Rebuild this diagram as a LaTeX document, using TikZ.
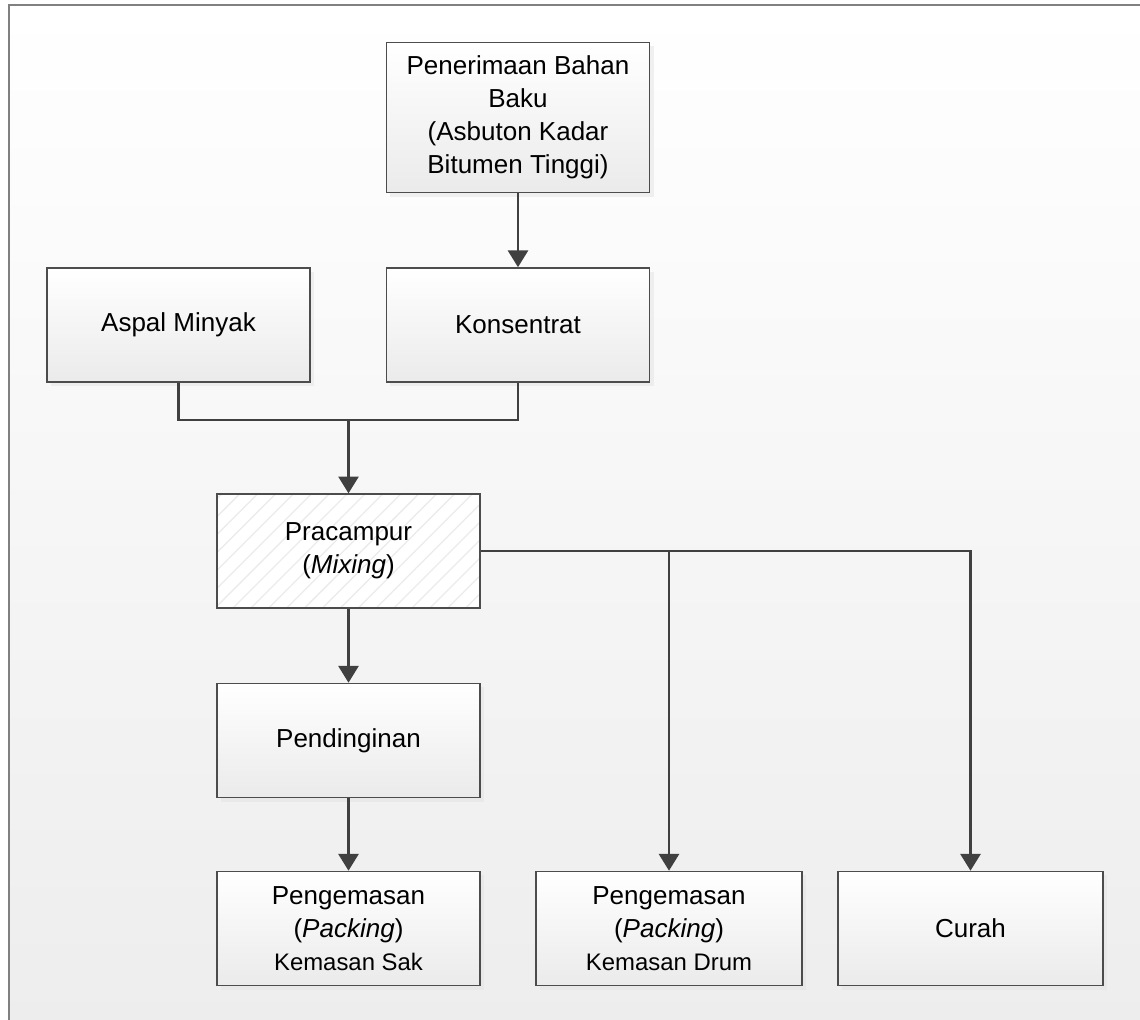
\documentclass[tikz,border=0pt]{standalone}
\usepackage{fontspec}
\setmainfont{Liberation Sans}
\usetikzlibrary{arrows.meta,patterns.meta,shadows}

\tikzset{
  basebox/.style={draw=black!70, line width=1.1pt,
    minimum width=6.575cm, minimum height=2.85cm, inner sep=0pt, align=center,
    font=\fontsize{18.5}{23.5}\selectfont},
  stagebox/.style={basebox, top color=white, bottom color=black!8,
    drop shadow={shadow xshift=0.1cm, shadow yshift=-0.1cm, fill=black!11}},
  mixbox/.style={basebox, preaction={fill=white},
    pattern={Lines[angle=45, distance=9pt, line width=0.9pt]}, pattern color=black!8},
  conn/.style={draw=black!75, line width=1.9pt},
  flow/.style={conn, -{Triangle[width=0.5cm, length=0.42cm]}}
}

\begin{document}
\begin{tikzpicture}[x=0.025cm, y=-0.025cm]
\useasboundingbox (0,0) rectangle (1140,1020);
\fill[white] (0,0) rectangle (1140,1020);
\node[anchor=north west, inner sep=0pt, minimum width=28.275cm, minimum height=25.375cm,
  top color=white, bottom color=black!7] (latar) at (9,5) {};
\draw[black!50, line width=1.5pt] (latar.south west) -- (latar.north west) -- (latar.north east);

% bahan baku
\node[stagebox, minimum height=3.75cm] (terima) at (518,117.5)
  {Penerimaan Bahan\\Baku\\(Asbuton Kadar\\Bitumen Tinggi)};
\node[stagebox] (aspal) at (178.5,325) {Aspal Minyak};
\node[stagebox] (konsentrat) at (518,325) {Konsentrat};

% proses
\node[mixbox] (pracampur) at (348.5,551) {Pracampur\\(\textit{Mixing})};
\node[stagebox] (pendingin) at (348.5,740.5) {Pendinginan};

% produk
\node[stagebox] (sak) at (348.5,928.5)
  {Pengemasan\\(\textit{Packing})\\{\fontsize{17}{20}\selectfont Kemasan Sak}};
\node[stagebox, minimum width=6.65cm] (drum) at (669,928.5)
  {Pengemasan\\(\textit{Packing})\\{\fontsize{17}{20}\selectfont Kemasan Drum}};
\node[stagebox, minimum width=6.625cm] (curah) at (970.5,928.5) {Curah};

\coordinate (gabung) at (348.5,420);

\draw[flow] (terima) -- (konsentrat);
\draw[conn] (aspal.south) |- (gabung) -| (konsentrat.south);
\draw[flow] (gabung) -- (pracampur);
\draw[flow] (pracampur) -- (pendingin);
\draw[flow] (pendingin) -- (sak);
\draw[flow] (pracampur.east) -| (drum.north);
\draw[flow] (pracampur.east) -| (curah.north);
\end{tikzpicture}
\end{document}
